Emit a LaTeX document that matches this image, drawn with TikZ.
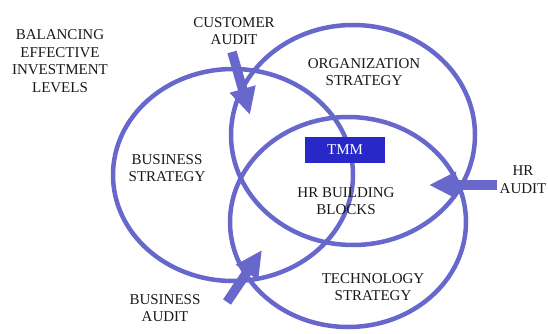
\documentclass[tikz,border=0pt]{standalone}
\usepackage{fontspec}
\setmainfont{Liberation Serif}
\usetikzlibrary{shapes.geometric,arrows.meta}
\definecolor{ringblue}{RGB}{104,104,204}
\definecolor{tmmblue}{RGB}{40,40,200}
\tikzset{
    ring/.style={ellipse, draw=ringblue, line width=4.5pt, inner sep=0pt},
    label text/.style={align=center, font=\fontsize{15}{17.7}\selectfont, text=black!90},
    audit arrow/.style={ringblue, line width=9.5pt, -{Triangle[length=27pt,width=25pt]}},
}
\begin{document}
\begin{tikzpicture}[x=1pt, y=-1pt]
        \useasboundingbox (0, 0) rectangle (548, 334);
        %draw the three strategy rings
        \node[ring, minimum width=240pt, minimum height=212pt] (business) at (233, 175) {};
        \node[ring, minimum width=244pt, minimum height=220pt] (organization) at (353, 135) {};
        \node[ring, minimum width=236pt, minimum height=210pt] (technology) at (348, 222) {};
        %draw labels
        \node[label text] (balancing) at (60, 61) {BALANCING\\EFFECTIVE\\INVESTMENT\\LEVELS};
        \node[label text] (custaudit) at (234, 31) {CUSTOMER\\AUDIT};
        \node[label text] (orglabel) at (364, 72) {ORGANIZATION\\STRATEGY};
        \node[label text] (buslabel) at (167, 168) {BUSINESS\\STRATEGY};
        \node[label text] (hrblocks) at (346, 201) {HR BUILDING\\BLOCKS};
        \node[label text] (techlabel) at (373, 287) {TECHNOLOGY\\STRATEGY};
        \node[label text] (busaudit) at (165, 308) {BUSINESS\\AUDIT};
        \node[label text] (hraudit) at (523, 180) {HR\\AUDIT};
        %draw TMM box
        \node[fill=tmmblue, text=white, minimum width=80pt, minimum height=26pt,
            font=\fontsize{15}{17}\selectfont] (tmm) at (345, 150) {TMM};
        %draw audit arrows
        \coordinate (custtail) at (232, 52);
        \coordinate (custtip) at (250, 115);
        \coordinate (bustail) at (227, 302);
        \coordinate (bustip) at (262, 250);
        \coordinate (hrtail) at (497, 185);
        \coordinate (hrtip) at (429, 185);
        \draw[audit arrow] (custtail) -- (custtip);
        \draw[audit arrow] (bustail) -- (bustip);
        \draw[audit arrow] (hrtail) -- (hrtip);
    \end{tikzpicture}
\end{document}
